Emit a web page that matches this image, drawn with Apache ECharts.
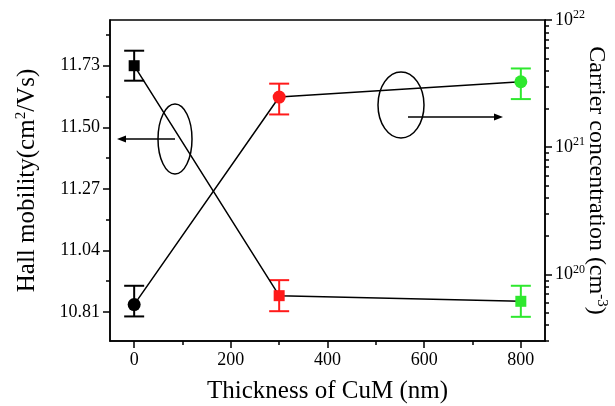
<!DOCTYPE html>
<html>
<head>
<meta charset="utf-8">
<script src="https://cdn.jsdelivr.net/npm/echarts@6/dist/echarts.min.js"></script>
<style>
  html, body { margin: 0; padding: 0; background: #fff; }
  #chart { width: 615px; height: 406px; }
</style>
</head>
<body>
<div id="chart"></div>
<script>
// data
var thickness = [0, 300, 800];
var mobility = [11.73, 10.871, 10.850];
var mobilityErr = [0.056, 0.058, 0.058];
var concentration = [5.8e19, 2.48e21, 3.27e21];
var concLow = [4.68e19, 1.81e21, 2.39e21];
var concHigh = [8.15e19, 3.16e21, 4.16e21];

// tick labels
var xTicks = [0, 200, 400, 600, 800];
var xMinor = [100, 300, 500, 700];
var yTicks = [10.81, 11.04, 11.27, 11.50, 11.73];
var yMinor = [10.925, 11.155, 11.385, 11.615, 11.845];
var concExp = [20, 21, 22];

var pointColors = ['#000000', '#ff1a1a', '#2ee82e'];
var serif = 'Liberation Serif';

// right axis is log10 of the concentration
var concMinor = [];
for (var e = 19; e <= 21; e++) {
  for (var k = 2; k <= 9; k++) concMinor.push(Math.log10(k) + e);
}
var yMin = 10.7017, yMax = 11.9007;
var cMin = Math.log10(3e19), cMax = 22;

var chart = echarts.init(document.getElementById('chart'));

function errBar(params, api) {
  var lo = api.coord([api.value(0), api.value(1)]);
  var hi = api.coord([api.value(0), api.value(2)]);
  var c = pointColors[params.dataIndex];
  var w = 10;
  var st = { stroke: c, lineWidth: 2 };
  return {
    type: 'group',
    children: [
      { type: 'line', shape: { x1: lo[0], y1: lo[1], x2: hi[0], y2: hi[1] }, style: st },
      { type: 'line', shape: { x1: lo[0] - w, y1: lo[1], x2: lo[0] + w, y2: lo[1] }, style: st },
      { type: 'line', shape: { x1: hi[0] - w, y1: hi[1], x2: hi[0] + w, y2: hi[1] }, style: st }
    ]
  };
}

var mobPts = thickness.map(function (x, i) {
  return { value: [x, mobility[i]], itemStyle: { color: pointColors[i] } };
});
var mobErr = thickness.map(function (x, i) {
  return [x, mobility[i] - mobilityErr[i], mobility[i] + mobilityErr[i]];
});
var concPts = thickness.map(function (x, i) {
  return { value: [x, Math.log10(concentration[i])], itemStyle: { color: pointColors[i] } };
});
var concErr = thickness.map(function (x, i) {
  return [x, Math.log10(concLow[i]), Math.log10(concHigh[i])];
});

var labelFont = { color: '#000', fontFamily: serif, fontSize: 18 };
var nameFont = { color: '#000', fontFamily: serif, fontSize: 25 };
var tickLine = { color: '#000', width: 1.5 };
var supStyle = { fontFamily: serif, fontSize: 15, color: '#000', padding: [0, 0, 11, 0] };

var option = {
  animation: false,
  grid: {
    left: 110, right: 70, top: 20, bottom: 65, containLabel: false, outerBoundsMode: 'none',
    show: true, borderColor: '#000', borderWidth: 1.5
  },
  xAxis: [
    {
      type: 'value', min: -50, max: 850, position: 'bottom',
      name: 'Thickness of CuM (nm)', nameLocation: 'middle', nameGap: 38, nameMoveOverlap: false,
      nameTextStyle: nameFont,
      axisLine: { show: true, onZero: false, lineStyle: tickLine },
      axisTick: { show: true, customValues: xTicks, length: 7, lineStyle: tickLine },
      axisLabel: Object.assign({ customValues: xTicks, margin: 10 }, labelFont),
      splitLine: { show: false }
    },
    {
      type: 'value', min: -50, max: 850, position: 'bottom', offset: 0,
      axisLine: { show: false, onZero: false },
      axisTick: { show: true, customValues: xMinor, length: 4, lineStyle: tickLine },
      axisLabel: { show: false },
      splitLine: { show: false }
    }
  ],
  yAxis: [
    {
      type: 'value', min: yMin, max: yMax, position: 'left',
      name: 'Hall mobility(cm{s|2}/Vs)', nameLocation: 'middle', nameRotate: 90, nameGap: 70,
      nameMoveOverlap: false,
      nameTextStyle: Object.assign({ rich: { s: supStyle } }, nameFont),
      axisLine: { show: true, onZero: false, lineStyle: tickLine },
      axisTick: { show: true, customValues: yTicks, length: 7, lineStyle: tickLine },
      axisLabel: Object.assign({
        customValues: yTicks, margin: 10,
        formatter: function (v) { return v.toFixed(2); }
      }, labelFont),
      splitLine: { show: false }
    },
    {
      type: 'value', min: yMin, max: yMax, position: 'left', offset: 0,
      axisLine: { show: false, onZero: false },
      axisTick: { show: true, customValues: yMinor, length: 4, lineStyle: tickLine },
      axisLabel: { show: false },
      splitLine: { show: false }
    },
    {
      type: 'value', min: cMin, max: cMax, position: 'right',
      name: 'Carrier concentration (cm{s|-3})', nameLocation: 'middle', nameRotate: -90, nameGap: 38,
      nameMoveOverlap: false,
      nameTextStyle: Object.assign({ rich: { s: supStyle } }, nameFont, { fontSize: 24 }),
      axisLine: { show: true, onZero: false, lineStyle: tickLine },
      axisTick: { show: true, customValues: concExp, length: 7, lineStyle: tickLine },
      axisLabel: Object.assign({
        customValues: concExp, margin: 10,
        formatter: function (v) { return '{b|10}{s|' + Math.round(v) + '}'; },
        rich: {
          b: { fontFamily: serif, fontSize: 18, color: '#000' },
          s: { fontFamily: serif, fontSize: 12, color: '#000', padding: [0, 0, 10, 0] }
        }
      }, labelFont),
      splitLine: { show: false }
    },
    {
      type: 'value', min: cMin, max: cMax, position: 'right', offset: 0,
      axisLine: { show: false, onZero: false },
      axisTick: { show: true, customValues: concMinor, length: 4, lineStyle: tickLine },
      axisLabel: { show: false },
      splitLine: { show: false }
    }
  ],
  series: [
    {
      type: 'custom', xAxisIndex: 0, yAxisIndex: 0, renderItem: errBar,
      data: mobErr, encode: { x: 0, y: [1, 2] }, z: 2, silent: true
    },
    {
      type: 'custom', xAxisIndex: 0, yAxisIndex: 2, renderItem: errBar,
      data: concErr, encode: { x: 0, y: [1, 2] }, z: 2, silent: true
    },
    {
      type: 'line', xAxisIndex: 0, yAxisIndex: 0, data: mobPts,
      symbol: 'rect', symbolSize: 11,
      lineStyle: { color: '#000', width: 1.5 }, z: 3, silent: true
    },
    {
      type: 'line', xAxisIndex: 0, yAxisIndex: 2, data: concPts,
      symbol: 'circle', symbolSize: 13,
      lineStyle: { color: '#000', width: 1.5 }, z: 3, silent: true
    }
  ],
  graphic: [
    { type: 'ellipse', shape: { cx: 175, cy: 139, rx: 17, ry: 35 }, style: { fill: 'none', stroke: '#000', lineWidth: 1.5 } },
    { type: 'line', shape: { x1: 175, y1: 139, x2: 124, y2: 139 }, style: { stroke: '#000', lineWidth: 1.5 } },
    { type: 'polygon', shape: { points: [[117, 139], [126, 135.5], [126, 142.5]] }, style: { fill: '#000' } },
    { type: 'ellipse', shape: { cx: 401, cy: 105, rx: 23, ry: 33 }, style: { fill: 'none', stroke: '#000', lineWidth: 1.5 } },
    { type: 'line', shape: { x1: 408, y1: 117, x2: 496, y2: 117 }, style: { stroke: '#000', lineWidth: 1.5 } },
    { type: 'polygon', shape: { points: [[503, 117], [494, 113.5], [494, 120.5]] }, style: { fill: '#000' } }
  ]
};

chart.setOption(option);
</script>
</body>
</html>
